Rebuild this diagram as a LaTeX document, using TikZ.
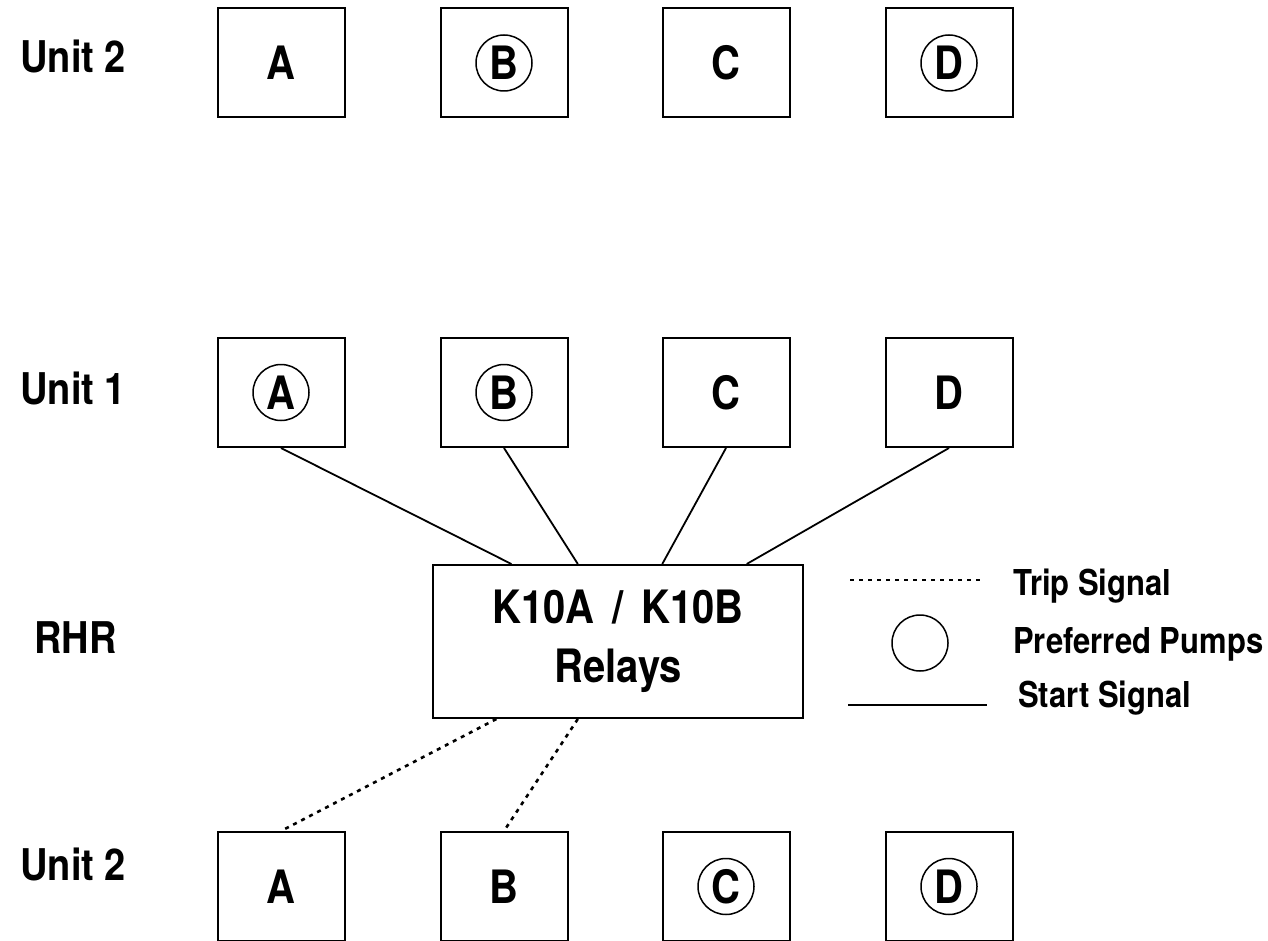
\documentclass[tikz,border=0pt]{standalone}
\usepackage{fontspec}
\setmainfont{TeX Gyre Heros}
\usepackage{graphicx}
\usetikzlibrary{calc}
\newcommand{\vst}[1]{\scalebox{1}[1.15]{#1}}
\tikzset{
  pumpbox/.style={draw, line width=2pt, minimum width=127pt, minimum height=109pt,
    inner sep=0pt, font=\fontsize{40}{48}\selectfont\bfseries},
  prefring/.style={draw, circle, line width=1.5pt, minimum size=56pt, inner sep=0pt,
    font=\fontsize{40}{48}\selectfont\bfseries},
  rowlabel/.style={anchor=west, inner sep=0pt, font=\fontsize{38}{46}\selectfont\bfseries},
  legtext/.style={anchor=base west, inner sep=0pt, font=\fontsize{31}{38}\selectfont\bfseries},
  relaybox/.style={draw, line width=2pt, minimum width=370pt, minimum height=153pt,
    inner sep=0pt, align=center, font=\fontsize{40}{59}\selectfont\bfseries},
  startsig/.style={line width=1.8pt},
  tripsig/.style={line width=2.6pt, dash pattern=on 4pt off 5pt},
}
\begin{document}
\begin{tikzpicture}[x=1pt,y=-1pt]
\useasboundingbox (0,0) rectangle (1268,941);
% row labels
\node[rowlabel] (lab2t) at (20,56) {\vst{Unit 2}};
\node[rowlabel] (lab1) at (20,388) {\vst{Unit 1}};
\node[rowlabel] (labr) at (34,638) {\vst{RHR}};
\node[rowlabel] (lab2b) at (20,864) {\vst{Unit 2}};
% top row (Unit 2)
\node[pumpbox] (ta) at (281,63) {\vst{A}};
\node[pumpbox] (tb) at (504,63) {};
\node[prefring] (tbc) at (tb.center) {\vst{B}};
\node[pumpbox] (tc) at (726,63) {\vst{C}};
\node[pumpbox] (td) at (949,63) {};
\node[prefring] (tdc) at (td.center) {\vst{D}};
% Unit 1 row
\node[pumpbox] (ma) at (281,392.5) {};
\node[prefring] (mac) at (ma.center) {\vst{A}};
\node[pumpbox] (mb) at (504,392.5) {};
\node[prefring] (mbc) at (mb.center) {\vst{B}};
\node[pumpbox] (mc) at (726,392.5) {\vst{C}};
\node[pumpbox] (md) at (949,392.5) {\vst{D}};
% bottom row (Unit 2)
\node[pumpbox] (ba) at (281,886.5) {\vst{A}};
\node[pumpbox] (bb) at (504,886.5) {\vst{B}};
\node[pumpbox] (bc) at (726,886.5) {};
\node[prefring] (bcc) at (bc.center) {\vst{C}};
\node[pumpbox] (bd) at (949,886.5) {};
\node[prefring] (bdc) at (bd.center) {\vst{D}};
% relays
\node[relaybox] (k10) at (618,641.5) {\vst{K10A\hspace{0.45em}/\hspace{0.45em}K10B}\\\vst{Relays}};
\coordinate (k1) at ($(k10.north west)!0.2135!(k10.north east)$);
\coordinate (k2) at ($(k10.north west)!0.392!(k10.north east)$);
\coordinate (k3) at ($(k10.north west)!0.619!(k10.north east)$);
\coordinate (k4) at ($(k10.north west)!0.846!(k10.north east)$);
\coordinate (kb1) at ($(k10.south west)!0.173!(k10.south east)$);
\coordinate (kb2) at ($(k10.south west)!0.392!(k10.south east)$);
% start signals
\draw[startsig] (ma.south) -- (k1);
\draw[startsig] (mb.south) -- (k2);
\draw[startsig] (mc.south) -- (k3);
\draw[startsig] (md.south) -- (k4);
% trip signals
\draw[tripsig] (kb1) -- (ba.north);
\draw[tripsig] (kb2) -- (bb.north);
% legend
\coordinate (trl) at (850,580);
\coordinate (trr) at (980,580);
\draw[tripsig] (trl) -- (trr);
\node[legtext] (trt) at (1013,595) {\vst{Trip Signal}};
\node[draw, circle, line width=1.5pt, minimum size=56pt, inner sep=0pt] (legc) at (920,643) {};
\node[legtext] (prt) at (1013,653) {\vst{Preferred Pumps}};
\coordinate (stl) at (848,705);
\coordinate (str) at (987,705);
\draw[startsig] (stl) -- (str);
\node[legtext] (stt) at (1018,707) {\vst{Start Signal}};
\end{tikzpicture}
\end{document}
